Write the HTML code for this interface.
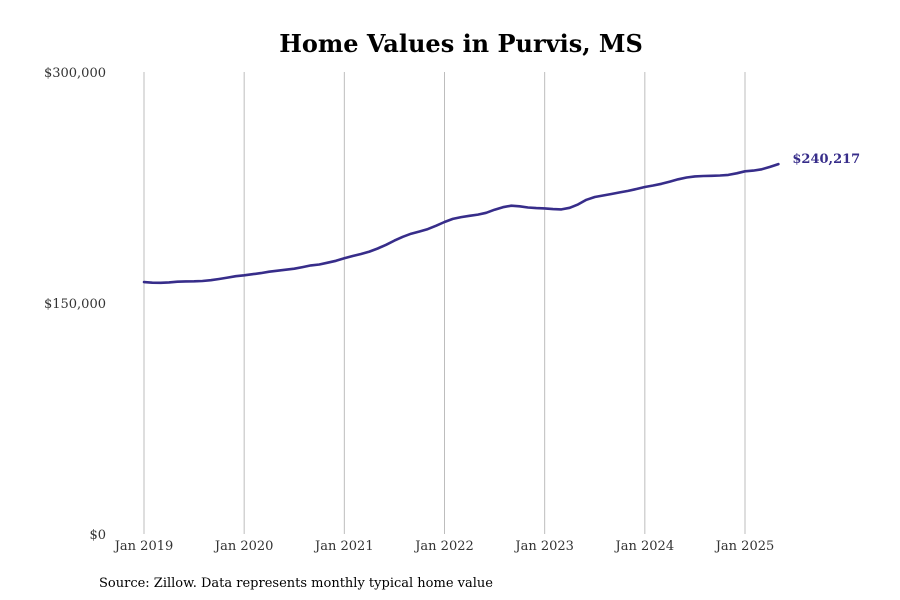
<!DOCTYPE html>
<html><head><meta charset="utf-8"><style>
body{margin:0;background:#fff;}
svg{display:block;font-family:"DejaVu Serif","Liberation Serif",serif;}
</style></head><body>
<svg id="chart" width="900" height="600">
<text x="461" y="52" text-anchor="middle" font-size="24" font-weight="bold" fill="#000">Home Values in Purvis, MS</text>
<g id="grid"></g><g id="yaxis"></g><g id="xaxis"></g><g id="series"></g>
<text x="99" y="587" font-size="13" fill="#000">Source: Zillow. Data represents monthly typical home value</text>
</svg>
<script>
const yTickValues=[0,150000,300000];
const yTickLabels=["$0","$150,000","$300,000"];
const xTickYears=[2019,2020,2021,2022,2023,2024,2025];
const xTickLabels=["Jan 2019","Jan 2020","Jan 2021","Jan 2022","Jan 2023","Jan 2024","Jan 2025"];
const startYear=2019;
const values=[
163.6,163.2,163.1,163.4,163.8,164.0,164.1,164.3,164.8,165.6,166.5,167.4,
168.0,168.7,169.4,170.3,171.0,171.6,172.3,173.3,174.4,175.0,176.2,177.4,
179.0,180.5,181.8,183.4,185.4,187.8,190.5,193.0,195.0,196.4,198.0,200.2,
202.6,204.6,205.8,206.6,207.4,208.6,210.6,212.2,213.2,212.8,212.0,211.6,
211.4,211.0,210.8,211.8,214.0,217.0,218.8,219.8,220.8,221.8,222.8,224.0,
225.3,226.3,227.4,228.8,230.3,231.5,232.2,232.5,232.6,232.8,233.2,234.2,
235.5,236.0,236.8,238.4,240.217];
const lastLabel="$240,217";
const NS="http://www.w3.org/2000/svg";
const x=m=>144+m*(601/72);
const y=v=>534-v*(462/300000);
function mk(tag,attrs,parent,text){const e=document.createElementNS(NS,tag);for(const k in attrs)e.setAttribute(k,attrs[k]);if(text!==undefined)e.textContent=text;document.getElementById(parent).appendChild(e);return e;}
xTickYears.forEach((yr,i)=>{
 const xx=x((yr-startYear)*12);
 const g=mk('line',{x1:xx,x2:xx,y1:72,y2:534,stroke:'#bdbdbd','stroke-width':1},'grid');
 
 
 const t=mk('text',{x:xx,y:550,'text-anchor':'middle','font-size':13,fill:'#333'},'xaxis',xTickLabels[i]);
 
 
});
yTickValues.forEach((v,i)=>{
 const t=mk('text',{x:106,y:y(v)+5,'text-anchor':'end','font-size':13,fill:'#333'},'yaxis',yTickLabels[i]);
 
 
});
const d=values.map((v,i)=>(i?'L':'M')+x(i).toFixed(1)+','+y(v*1000).toFixed(1)).join(' ');
const p=mk('path',{d:d,fill:'none',stroke:'#372d8a','stroke-width':2.6,'stroke-linejoin':'round','stroke-linecap':'round'},'series');


const li=values.length-1;
const lt=mk('text',{x:x(li)+14,y:y(values[li]*1000)-1,'font-size':13,'font-weight':'bold',fill:'#372d8a'},'series',lastLabel);


</script>
</body></html>
